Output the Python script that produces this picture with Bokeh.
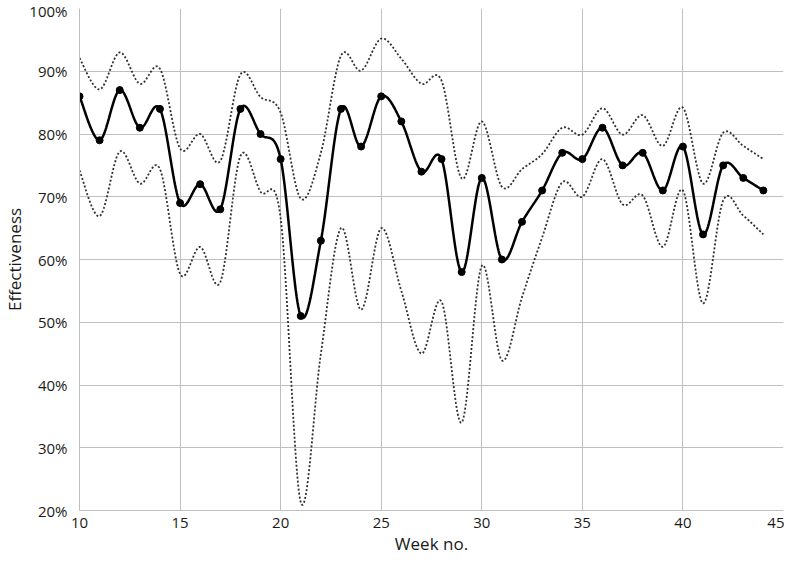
import numpy as np
from bokeh.plotting import figure
from bokeh.models import FixedTicker, PrintfTickFormatter, Range1d
from bokeh.embed import file_html
from bokeh.resources import INLINE

weeks = list(range(10, 45))
effectiveness = [86, 79, 87, 81, 84, 69, 72, 68, 84, 80, 76, 51, 63, 84, 78, 86, 82, 74, 76, 58,
                 73, 60, 66, 71, 77, 76, 81, 75, 77, 71, 78, 64, 75, 73, 71]
upper = [92.1, 87.1, 93, 88, 90.4, 77.7, 80, 75.7, 89.5, 85.9, 83.4, 69.7, 77, 92.5, 90.1, 95.2,
         92, 88, 88.5, 72.9, 82, 71.6, 74.4, 76.8, 81, 79.9, 84.1, 79.9, 83, 78.1, 84.2, 72.1,
         80.2, 78.1, 76]
lower = [74.2, 66.9, 77.2, 72.1, 74.4, 57.7, 62, 56.4, 76.5, 70.8, 66.6, 21.3, 45, 65, 52, 65,
         55, 45, 53.3, 34, 59, 43.9, 54, 63.5, 72.3, 70, 76, 68.8, 70.2, 62, 71, 53, 69.4, 67, 64]
x_ticks = [10, 15, 20, 25, 30, 35, 40, 45]
y_ticks = [20, 30, 40, 50, 60, 70, 80, 90, 100]


def smooth(xs, ys, n=24):
    """Excel-style smoothed line (Catmull-Rom Bezier) for rendering."""
    x = np.asarray(xs, float)
    y = np.asarray(ys, float)
    P = np.column_stack([x, y])
    Pp = np.vstack([P[0], P, P[-1]])
    out = []
    t = np.linspace(0, 1, n, endpoint=False)[:, None]
    for i in range(len(P) - 1):
        p0, p1, p2, p3 = Pp[i], Pp[i + 1], Pp[i + 2], Pp[i + 3]
        c1 = p1 + (p2 - p0) / 6.0
        c2 = p2 - (p3 - p1) / 6.0
        b = ((1 - t) ** 3) * p1 + 3 * ((1 - t) ** 2) * t * c1 + 3 * (1 - t) * t ** 2 * c2 + t ** 3 * p2
        out.append(b)
    out.append(P[-1][None, :])
    arr = np.vstack(out)
    return arr[:, 0], arr[:, 1]


FONT = "Open Sans"

p = figure(width=784, height=560, output_backend="svg", toolbar_location=None,
           x_range=Range1d(10, 45), y_range=Range1d(20, 100),
           min_border_left=71, min_border_right=1, min_border_top=8, min_border_bottom=50)
p.outline_line_color = None
p.background_fill_color = "white"
p.border_fill_color = "white"

grid_col = "#bfbfbf"
p.xgrid.ticker = FixedTicker(ticks=x_ticks)
p.ygrid.ticker = FixedTicker(ticks=y_ticks)
p.xgrid.grid_line_color = grid_col
p.ygrid.grid_line_color = grid_col
p.xgrid.grid_line_width = 1
p.ygrid.grid_line_width = 1

p.xaxis.ticker = FixedTicker(ticks=x_ticks)
p.yaxis.ticker = FixedTicker(ticks=y_ticks)
p.yaxis.formatter = PrintfTickFormatter(format="%d%%")
for ax in (p.xaxis, p.yaxis):
    ax.axis_line_color = grid_col
    ax.axis_line_width = 1
    ax.major_tick_line_color = None
    ax.minor_tick_line_color = None
    ax.major_tick_out = 0
    ax.major_tick_in = 0
    ax.minor_tick_out = 0
    ax.major_label_text_font = FONT
    ax.major_label_text_font_size = "15px"
    ax.major_label_text_color = "#1a1a1a"
    ax.axis_label_text_font = FONT
    ax.axis_label_text_font_size = "17px"
    ax.axis_label_text_font_style = "normal"
    ax.axis_label_text_color = "#1a1a1a"

p.xaxis.axis_label = "Week no."
p.yaxis.axis_label = "Effectiveness"
p.xaxis.major_label_standoff = 7
p.xaxis.axis_label_standoff = 1
p.yaxis.major_label_standoff = 12
p.yaxis.axis_label_standoff = 0

ux, uy = smooth(weeks, upper)
lx, ly = smooth(weeks, lower)
mx, my = smooth(weeks, effectiveness)

p.line(ux, uy, line_color="#303030", line_width=1.8, line_dash="2 2")
p.line(lx, ly, line_color="#303030", line_width=1.8, line_dash="2 2")
p.line(mx, my, line_color="black", line_width=2.5)
p.scatter(weeks, effectiveness, size=7, marker="circle", fill_color="black", line_color="black")

open("out.html", "w").write(file_html(p, INLINE))
